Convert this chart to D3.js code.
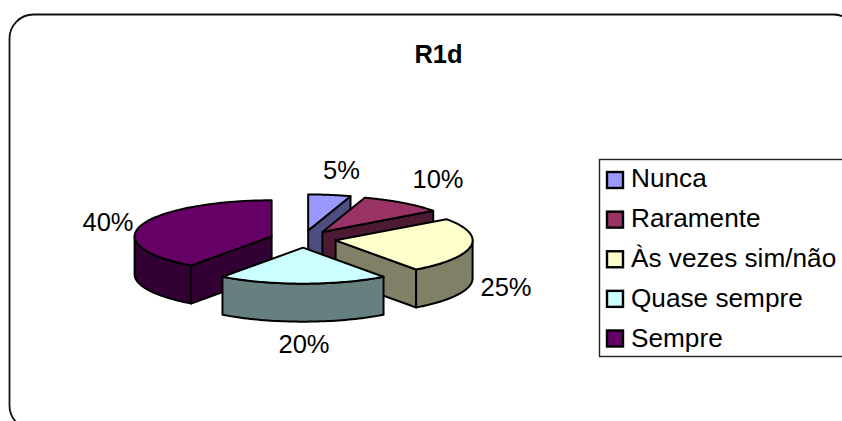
<!DOCTYPE html>
<html lang="pt">
<head>
<meta charset="utf-8">
<title>R1d</title>
<script src="https://cdn.jsdelivr.net/npm/d3@7"></script>
<style>
  html, body { margin: 0; padding: 0; background: #fff; }
  svg { display: block; }
  text { font-family: "Liberation Sans", Arial, sans-serif; fill: #000; }
</style>
</head>
<body>
<svg id="chart" width="842" height="421"></svg>
<script>
// Survey answers for question R1d
const titleText = "R1d";
const categories = ["Nunca", "Raramente", "Às vezes sim/não", "Quase sempre", "Sempre"];
const percentages = [5, 10, 25, 20, 40];
const topColors = ["#9999FF", "#993366", "#FFFFCC", "#CCFFFF", "#660066"];

// Tilted pie geometry
const cx = 303, cy = 239, rx = 137, ry = 36, depth = 38, explode = 33;
const strokeWidth = 2;

const svg = d3.select("#chart");

// Chart frame, with corners running past the page on the right and bottom
svg.append("rect")
  .attr("x", 9.5).attr("y", 14.5)
  .attr("width", 848).attr("height", 415)
  .attr("rx", 24).attr("ry", 24)
  .attr("fill", "#fff").attr("stroke", "#111").attr("stroke-width", 1.8);

svg.append("text")
  .attr("x", 438.5).attr("y", 63)
  .attr("text-anchor", "middle")
  .attr("font-size", 25.5).attr("font-weight", "bold")
  .text(titleText);

const pie = d3.pie().sort(null).value(d => d.value);
const slices = pie(categories.map((name, i) => ({ name, value: percentages[i], color: topColors[i] })));

// Projection of a pie angle (0 at twelve o'clock, clockwise) on the tilted plane
const px = a => rx * Math.sin(a);
const py = a => -ry * Math.cos(a);
const line = d3.line();
const sideColor = c => d3.interpolateRgb(c, "#000")(0.5);

// Slices are painted from the back of the scene to the front
const paintOrder = [0, 1, 4, 2, 3];
const pieGroup = svg.append("g")
  .attr("stroke", "#000").attr("stroke-width", strokeWidth).attr("stroke-linejoin", "round");

paintOrder.forEach(i => {
  const s = slices[i];
  const mid = (s.startAngle + s.endAngle) / 2;
  const g = pieGroup.append("g")
    .attr("transform", `translate(${cx + explode * Math.sin(mid)},${cy - explode * (ry / rx) * Math.cos(mid)})`);
  const dark = sideColor(s.data.color);

  // Cut faces that turn towards the viewer
  [[s.startAngle, Math.sin(s.startAngle) < -1e-6], [s.endAngle, Math.sin(s.endAngle) > 1e-6]]
    .filter(d => d[1])
    .forEach(([a]) => {
      g.append("path").attr("fill", dark)
        .attr("d", line([[0, 0], [px(a), py(a)], [px(a), py(a) + depth], [0, depth]]) + "Z");
    });

  // Outer wall along the front half of the rim
  const from = Math.max(s.startAngle, Math.PI / 2);
  const to = Math.min(s.endAngle, 3 * Math.PI / 2);
  if (to > from) {
    const rim = d3.range(0, 49).map(k => from + (to - from) * k / 48);
    const upper = rim.map(a => [px(a), py(a)]);
    const lower = rim.slice().reverse().map(a => [px(a), py(a) + depth]);
    g.append("path").attr("fill", dark).attr("d", line(upper.concat(lower)) + "Z");
  }

  // Top face
  const rimTop = d3.range(0, 65).map(k => {
    const a = s.startAngle + (s.endAngle - s.startAngle) * k / 64;
    return [px(a), py(a)];
  });
  g.append("path").attr("fill", s.data.color)
    .attr("d", line([[0, 0]].concat(rimTop)) + "Z");
});

// Percentage labels
const labelSpots = [[341.5, 179], [438, 188], [506, 296], [304, 353], [108, 231]];
svg.append("g").selectAll("text").data(slices).join("text")
  .attr("x", (d, i) => labelSpots[i][0])
  .attr("y", (d, i) => labelSpots[i][1])
  .attr("text-anchor", "middle")
  .attr("font-size", 25.5)
  .text(d => d.data.value + "%");

// Legend
svg.append("rect")
  .attr("x", 599.5).attr("y", 159.5).attr("width", 260).attr("height", 197)
  .attr("fill", "#fff").attr("stroke", "#222").attr("stroke-width", 1.4);

const swatchY = d3.scalePoint().domain(categories).range([180, 338.5]);
const baselineY = d3.scalePoint().domain(categories).range([187, 347]);
const legendRows = svg.append("g").selectAll("g").data(slices).join("g");
legendRows.append("rect")
  .attr("x", 607).attr("y", d => swatchY(d.data.name) - 8).attr("width", 16).attr("height", 16)
  .attr("fill", d => d.data.color).attr("stroke", "#000").attr("stroke-width", 2.4);
legendRows.append("text")
  .attr("x", 631).attr("y", d => baselineY(d.data.name))
  .attr("font-size", 26.2)
  .text(d => d.data.name);
</script>
</body>
</html>
